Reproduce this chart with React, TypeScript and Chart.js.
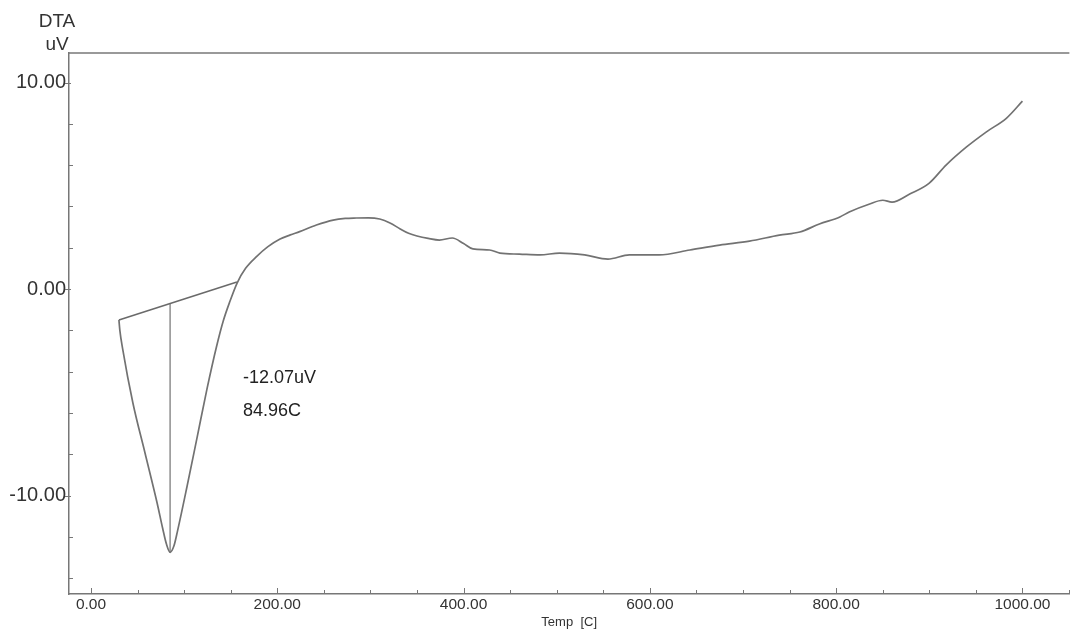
import React, { useEffect, useRef } from "react";
import { Chart, registerables } from "chart.js";

Chart.register(...registerables);

// DTA curve: temperature (C) and signal (uV)
const temps = [
  30, 31, 34, 45, 58, 71, 77, 81, 85, 89, 93, 103, 114, 124.5, 135, 142, 149, 157, 166,
  178, 190, 203, 214, 224, 242, 260, 273, 285, 298, 310, 321, 332, 341, 350, 362, 374,
  388, 400, 410, 428, 439, 460, 482, 503, 530, 555, 578, 610, 643, 675, 707, 739, 761,
  782, 804, 814, 836, 850, 860, 879, 900, 918, 940, 961, 983, 1000,
];
const dta = [
  -1.5, -2.0, -2.9, -5.52, -7.94, -10.36, -11.6, -12.35, -12.75, -12.45, -11.7, -9.59,
  -7.17, -4.85, -2.75, -1.55, -0.62, 0.3, 1.0, 1.58, 2.05, 2.42, 2.62, 2.78, 3.1, 3.34,
  3.42, 3.44, 3.45, 3.39, 3.2, 2.91, 2.7, 2.57, 2.45, 2.37, 2.47, 2.2, 1.94, 1.89, 1.74,
  1.69, 1.65, 1.74, 1.65, 1.45, 1.65, 1.65, 1.89, 2.13, 2.32, 2.61, 2.76, 3.15, 3.49,
  3.73, 4.12, 4.3, 4.21, 4.6, 5.13, 6.0, 6.88, 7.6, 8.28, 9.1,
];

// Peak baseline and peak marker
const baselineT = [30, 156.7];
const baselineV = [-1.5, 0.34];
const peakT = [85, 85];
const peakV = [-0.7, -12.75];

// Axis ticks
const xTicks = [0, 50, 100, 150, 200, 250, 300, 350, 400, 450, 500, 550, 600, 650, 700, 750, 800, 850, 900, 950, 1000, 1050];
const xLabelled = [0, 200, 400, 600, 800, 1000];
const yTicks = [-14, -12, -10, -8, -6, -4, -2, 0, 2, 4, 6, 8, 10];
const yLabelled = [-10, 0, 10];

const peakLabel = "-12.07uV";
const peakTempLabel = "84.96C";

const FONT = "'Liberation Sans', Arial, sans-serif";

const axisDecor = {
  id: "axisDecor",
  afterDraw(chart: any) {
    const { ctx, chartArea, scales } = chart;
    const { left, right, top, bottom } = chartArea;
    const xs = scales.x;
    const ys = scales.y;
    ctx.save();
    ctx.strokeStyle = "#777";
    ctx.lineWidth = 1.5;
    ctx.beginPath();
    ctx.moveTo(left, top);
    ctx.lineTo(right, top);
    ctx.stroke();
    ctx.lineWidth = 1;
    ctx.beginPath();
    xs.ticks.forEach((t: any) => {
      const px = Math.round(xs.getPixelForValue(t.value)) + 0.5;
      const major = xLabelled.includes(t.value);
      ctx.moveTo(px, bottom);
      ctx.lineTo(px, bottom - (major ? 6 : 4));
    });
    ys.ticks.forEach((t: any) => {
      const py = Math.round(ys.getPixelForValue(t.value)) + 0.5;
      const major = yLabelled.includes(t.value);
      if (major) {
        ctx.moveTo(left - 4, py);
        ctx.lineTo(left + 2, py);
      } else {
        ctx.moveTo(left, py);
        ctx.lineTo(left + 4, py);
      }
    });
    ctx.stroke();
    ctx.restore();
  },
};

export default function App() {
  const ref = useRef<HTMLCanvasElement>(null);

  useEffect(() => {
    if (!ref.current) return;
    const chart = new Chart(ref.current, {
      type: "line",
      data: {
        datasets: [
          {
            data: temps.map((t, i) => ({ x: t, y: dta[i] })),
            borderColor: "#727272",
            borderWidth: 1.7,
            pointRadius: 0,
            cubicInterpolationMode: "monotone",
            fill: false,
          },
          {
            data: baselineT.map((t, i) => ({ x: t, y: baselineV[i] })),
            borderColor: "#6a6a6a",
            borderWidth: 1.6,
            pointRadius: 0,
            fill: false,
          },
          {
            data: peakT.map((t, i) => ({ x: t, y: peakV[i] })),
            borderColor: "#9a9a9a",
            borderWidth: 1,
            pointRadius: 0,
            fill: false,
          },
        ],
      },
      options: {
        responsive: false,
        animation: false,
        layout: { padding: { top: 53, left: 0, right: 0, bottom: 0 } },
        plugins: { legend: { display: false }, tooltip: { enabled: false } },
        scales: {
          x: {
            type: "linear",
            min: -23.6,
            max: 1050.4,
            afterFit: (s: any) => {
              s.height = 39;
            },
            afterBuildTicks: (s: any) => {
              s.ticks = xTicks.map((v) => ({ value: v }));
            },
            ticks: {
              autoSkip: false,
              maxRotation: 0,
              padding: 1,
              color: "#333",
              font: { family: FONT, size: 15.5 },
              callback: (v: any) => (xLabelled.includes(Number(v)) ? Number(v).toFixed(2) : ""),
            },
            grid: { display: true, drawOnChartArea: false, drawTicks: false },
            border: { display: true, color: "#777", width: 1.5 },
            title: {
              display: true,
              text: "Temp  [C]",
              color: "#333",
              font: { family: FONT, size: 13 },
              padding: { top: 0, bottom: 3 },
            },
          },
          y: {
            type: "linear",
            min: -14.77,
            max: 11.43,
            afterFit: (s: any) => {
              s.width = 69;
            },
            afterBuildTicks: (s: any) => {
              s.ticks = yTicks.map((v) => ({ value: v }));
            },
            ticks: {
              autoSkip: false,
              padding: 3,
              color: "#333",
              font: { family: FONT, size: 20 },
              callback: (v: any) => (yLabelled.includes(Number(v)) ? Number(v).toFixed(2) : ""),
            },
            grid: { display: true, drawOnChartArea: false, drawTicks: false },
            border: { display: true, color: "#777", width: 1.5 },
          },
        },
      },
      plugins: [axisDecor],
    } as any);
    return () => chart.destroy();
  }, []);

  return (
    <div
      style={{
        position: "fixed",
        left: 0,
        top: 0,
        width: 1070,
        height: 633,
        background: "#fff",
        fontFamily: FONT,
        color: "#222",
      }}
    >
      <canvas ref={ref} width={1070} height={633} style={{ display: "block" }} />
      <div
        style={{
          position: "absolute",
          left: 26,
          top: 9,
          width: 62,
          textAlign: "center",
          fontSize: 19,
          lineHeight: "23px",
          color: "#333",
        }}
      >
        <div>DTA</div>
        <div>uV</div>
      </div>
      <div style={{ position: "absolute", left: 243, top: 368, fontSize: 18, lineHeight: "18px", whiteSpace: "nowrap" }}>
        {peakLabel}
      </div>
      <div style={{ position: "absolute", left: 243, top: 401, fontSize: 18, lineHeight: "18px", whiteSpace: "nowrap" }}>
        {peakTempLabel}
      </div>
    </div>
  );
}
